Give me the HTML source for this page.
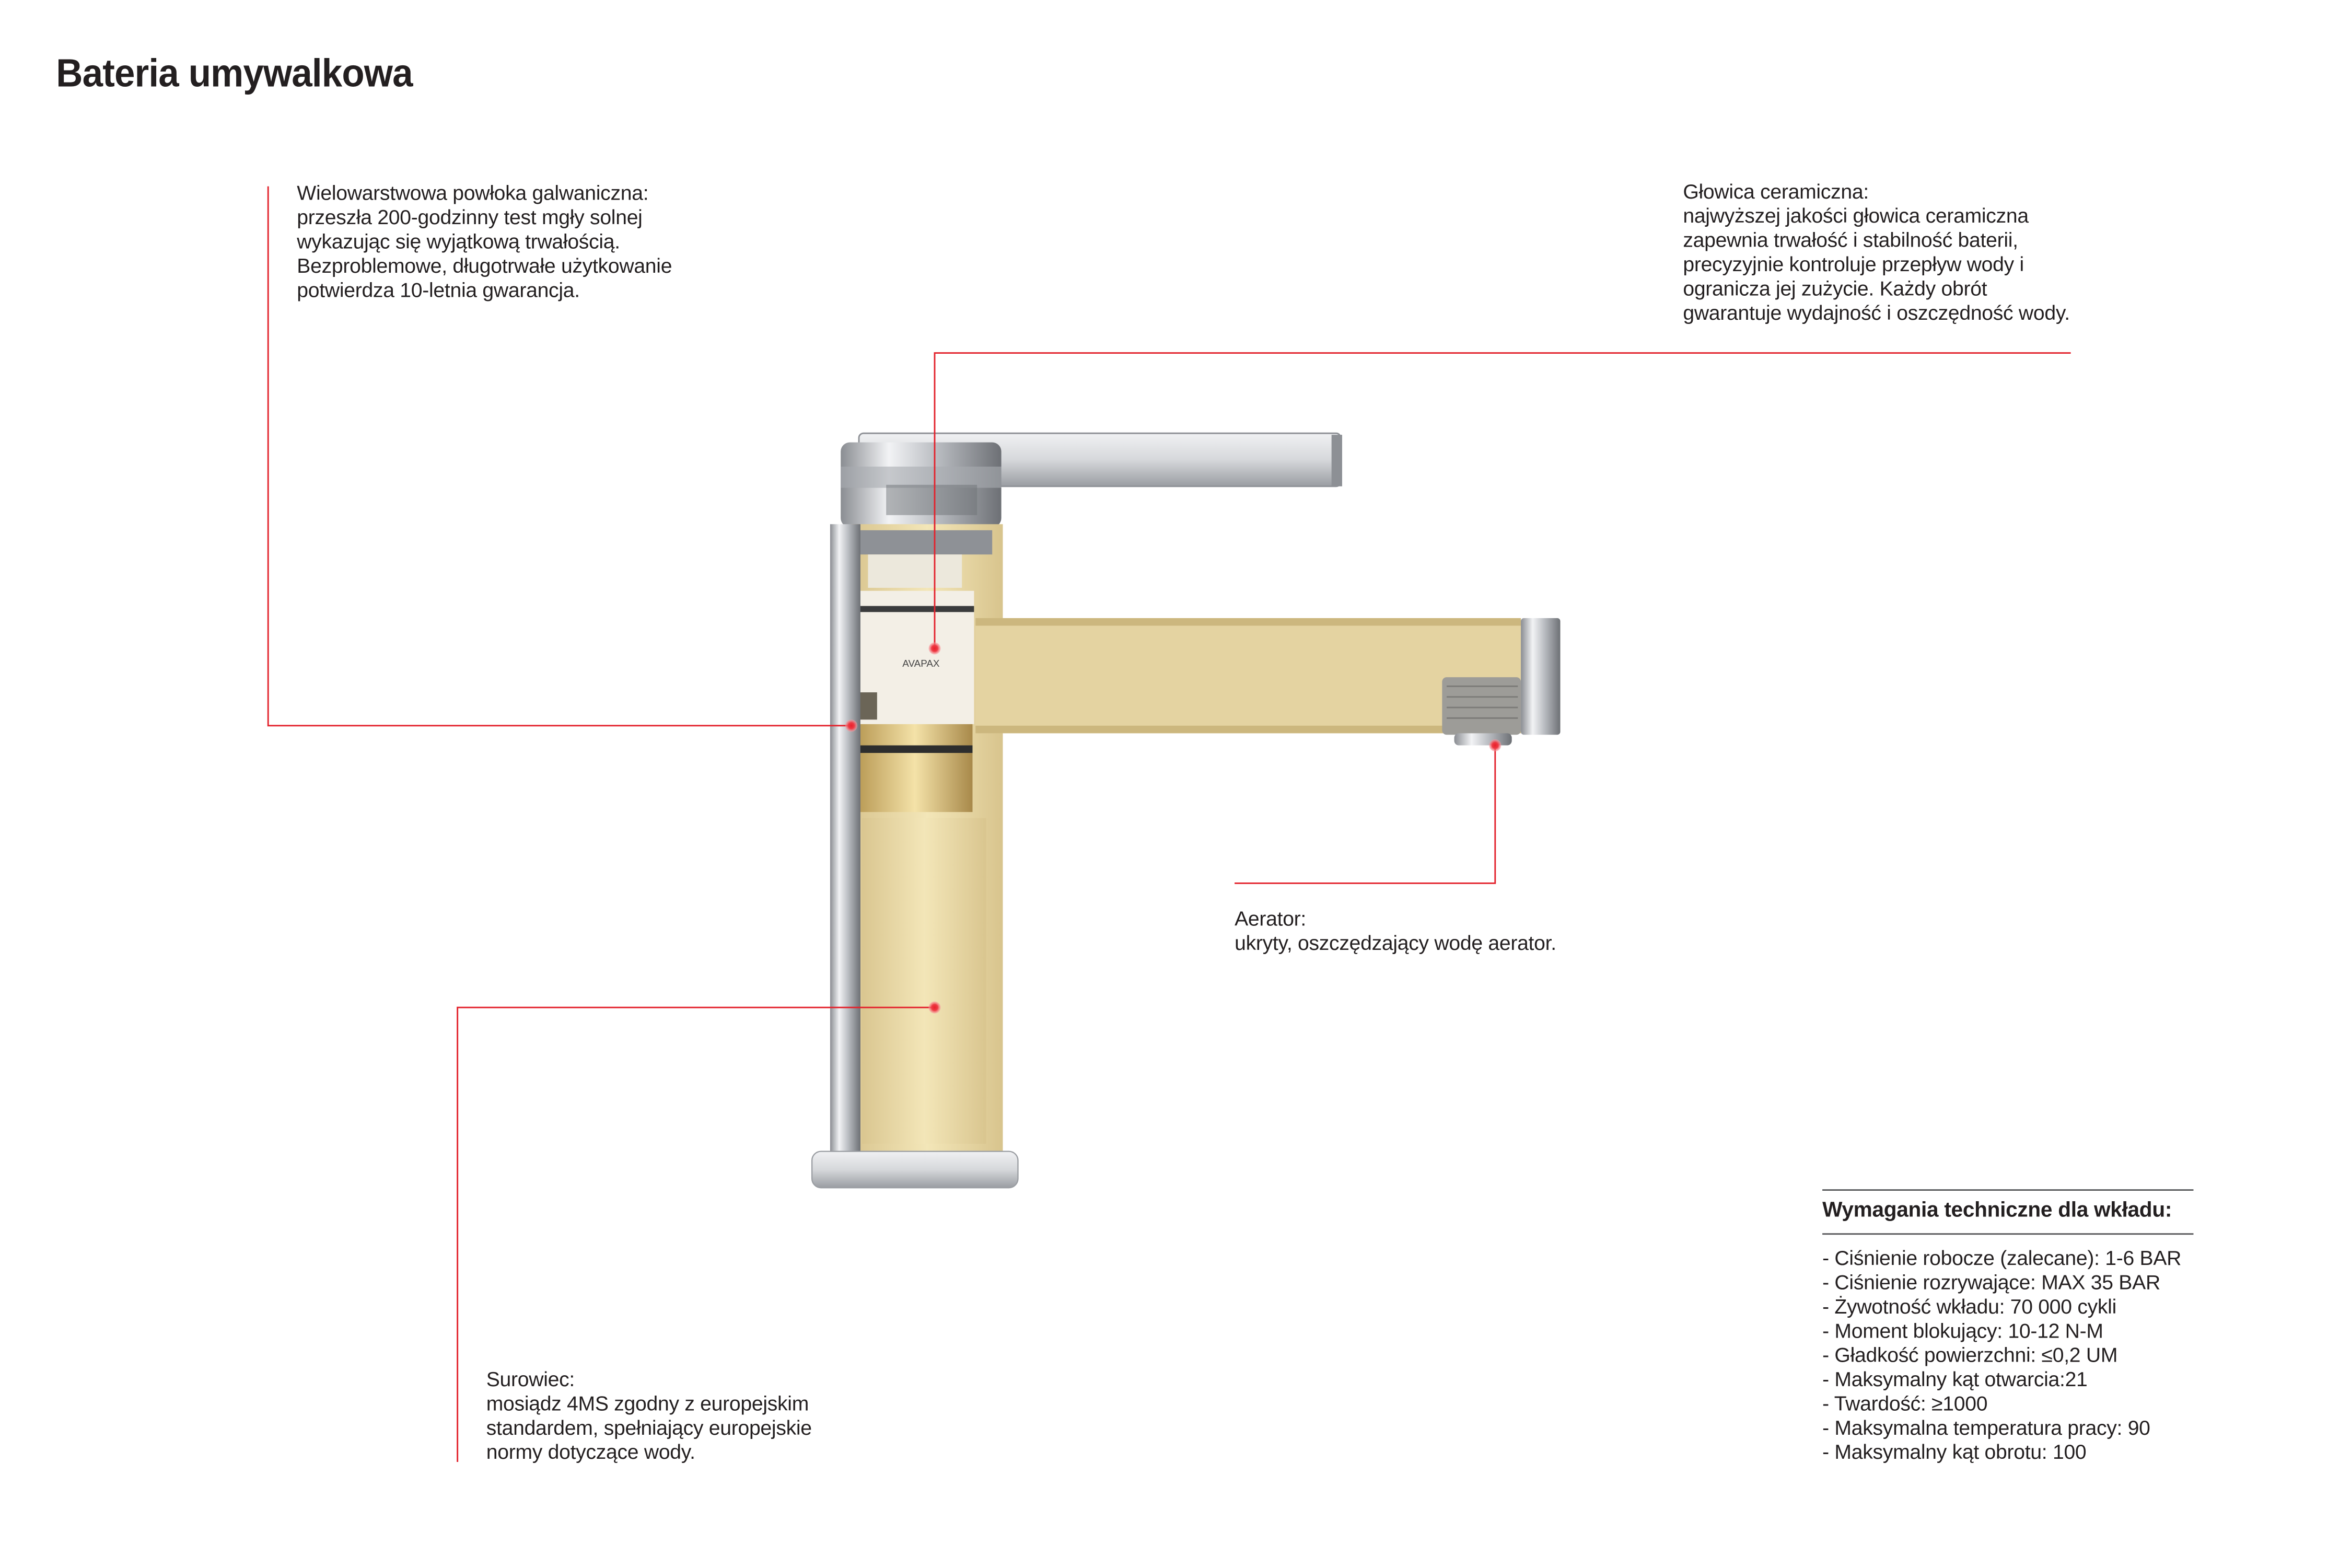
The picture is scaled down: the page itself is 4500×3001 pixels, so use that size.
<!DOCTYPE html>
<html><head><meta charset="utf-8">
<style>
html,body{margin:0;padding:0;background:#fff;}
body{width:4500px;height:3000px;overflow:hidden;position:relative;}
#c{position:absolute;left:0;top:0;width:1552px;height:1035px;transform:scale(2.8995);transform-origin:0 0;font-family:"Liberation Sans",sans-serif;color:#231f20;}
.t{position:absolute;font-size:13.5px;line-height:16px;white-space:nowrap;letter-spacing:-0.1px;}
h1{position:absolute;left:37px;top:33px;margin:0;font-size:26px;font-weight:bold;letter-spacing:-0.3px;transform:scaleX(0.94);transform-origin:0 0;}
</style></head><body><div id="c">
<h1>Bateria umywalkowa</h1>

<svg width="1552" height="1035" style="position:absolute;left:0;top:0">
<defs>
<linearGradient id="chr" x1="0" x2="1"><stop offset="0" stop-color="#8a8d92"/><stop offset="0.3" stop-color="#f2f3f5"/><stop offset="0.6" stop-color="#b9bcc1"/><stop offset="1" stop-color="#6d7075"/></linearGradient>
<linearGradient id="chrv" x1="0" y1="0" x2="0" y2="1"><stop offset="0" stop-color="#f0f1f3"/><stop offset="0.5" stop-color="#d6d8db"/><stop offset="1" stop-color="#9a9da2"/></linearGradient>
<linearGradient id="gold" x1="0" x2="1"><stop offset="0" stop-color="#d9c58f"/><stop offset="0.5" stop-color="#f3e6b8"/><stop offset="1" stop-color="#d8c48d"/></linearGradient>
<linearGradient id="brass" x1="0" x2="1"><stop offset="0" stop-color="#b99a55"/><stop offset="0.5" stop-color="#f4e2a8"/><stop offset="1" stop-color="#a8894a"/></linearGradient>
<radialGradient id="dot"><stop offset="0" stop-color="#e8202a"/><stop offset="0.5" stop-color="#ee3a44"/><stop offset="1" stop-color="#f9a0a5" stop-opacity="0.5"/></radialGradient>
</defs>
<rect x="567" y="286" width="318" height="35" rx="3" fill="url(#chrv)" stroke="#8f9297" stroke-width="1"/>
<rect x="879" y="287" width="7" height="34" fill="#8d9095"/>
<rect x="555" y="292" width="106" height="56" rx="6" fill="url(#chr)"/>
<rect x="555" y="308" width="106" height="14" fill="#a9acb1" opacity="0.6"/>
<rect x="585" y="320" width="60" height="20" fill="#6e7176" opacity="0.5"/>
<rect x="562" y="346" width="100" height="414" fill="url(#gold)"/>
<rect x="644" y="408" width="360" height="76" fill="#e4d3a1"/>
<rect x="644" y="408" width="360" height="5" fill="#ccb77e"/>
<rect x="644" y="479" width="360" height="5" fill="#ccb77e"/>
<rect x="1004" y="408" width="26" height="77" rx="2" fill="url(#chr)"/>
<rect x="952" y="447" width="52" height="38" rx="3" fill="#9d9c98"/>
<g stroke="#7c7b78" stroke-width="1"><line x1="955" y1="453" x2="1002" y2="453"/><line x1="955" y1="460" x2="1002" y2="460"/><line x1="955" y1="467" x2="1002" y2="467"/><line x1="955" y1="474" x2="1002" y2="474"/></g>
<rect x="960" y="484" width="38" height="8" rx="3" fill="url(#chr)"/>
<rect x="565" y="350" width="90" height="16" fill="#8e9196"/>
<rect x="573" y="366" width="62" height="22" fill="#ece8dc"/>
<rect x="567" y="390" width="76" height="88" fill="#f3efe6"/>
<rect x="567" y="400" width="76" height="4" fill="#3a3b3c"/>
<text x="608" y="440" font-size="6.5" text-anchor="middle" fill="#444" font-family="Liberation Sans">AVAPAX</text>
<rect x="567" y="457" width="12" height="18" fill="#6b6557"/>
<rect x="566" y="478" width="76" height="58" fill="url(#brass)"/>
<rect x="566" y="492" width="76" height="5" fill="#2d2d2d"/>
<rect x="569" y="540" width="82" height="215" fill="url(#gold)" opacity="0.8"/>
<rect x="548" y="346" width="20" height="416" fill="url(#chr)"/>
<rect x="536" y="760" width="136" height="24" rx="6" fill="url(#chrv)" stroke="#9a9da2" stroke-width="0.8"/>
<g stroke="#e3232d" stroke-width="1" fill="none">
<polyline points="177,123 177,479 562,479"/>
<polyline points="1367,233 617,233 617,428"/>
<polyline points="815,583 987,583 987,492"/>
<polyline points="302,965 302,665 617,665"/>
</g>
<g fill="url(#dot)">
<circle cx="562" cy="479" r="4"/><circle cx="617" cy="428" r="4"/><circle cx="987" cy="492" r="4"/><circle cx="617" cy="665" r="4"/>
</g>
<g stroke="#58595b" stroke-width="1"><line x1="1203" y1="785.5" x2="1448" y2="785.5"/><line x1="1203" y1="814.5" x2="1448" y2="814.5"/></g>
</svg>

<div class="t" style="left:196px;top:120px">Wielowarstwowa powłoka galwaniczna:<br>przeszła 200-godzinny test mgły solnej<br>wykazując się wyjątkową trwałością.<br>Bezproblemowe, długotrwałe użytkowanie<br>potwierdza 10-letnia gwarancja.</div>
<div class="t" style="left:1111px;top:119px">Głowica ceramiczna:<br>najwyższej jakości głowica ceramiczna<br>zapewnia trwałość i stabilność baterii,<br>precyzyjnie kontroluje przepływ wody i<br>ogranicza jej zużycie. Każdy obrót<br>gwarantuje wydajność i oszczędność wody.</div>
<div class="t" style="left:815px;top:599px">Aerator:<br>ukryty, oszczędzający wodę aerator.</div>
<div class="t" style="left:321px;top:903px">Surowiec:<br>mosiądz 4MS zgodny z europejskim<br>standardem, spełniający europejskie<br>normy dotyczące wody.</div>
<div class="t" style="left:1203px;top:790px;font-weight:bold;font-size:14px">Wymagania techniczne dla wkładu:</div>
<div class="t" style="left:1203px;top:823px">- Ciśnienie robocze (zalecane): 1-6 BAR<br>- Ciśnienie rozrywające: MAX 35 BAR<br>- Żywotność wkładu: 70 000 cykli<br>- Moment blokujący: 10-12 N-M<br>- Gładkość powierzchni: ≤0,2 UM<br>- Maksymalny kąt otwarcia:21<br>- Twardość: ≥1000<br>- Maksymalna temperatura pracy: 90<br>- Maksymalny kąt obrotu: 100</div>
</div></body></html>
